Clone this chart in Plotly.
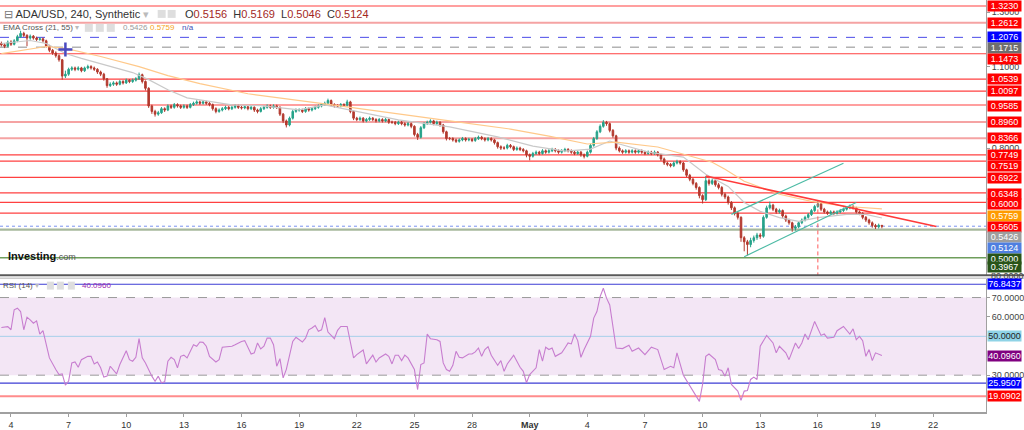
import pandas as pd
import plotly.graph_objects as go

# ---------------- data ----------------
START = "2022-04-03 12:00"   # first 4h bar shown

O = [1.185, 1.180, 1.175, 1.190, 1.182, 1.195, 1.210, 1.222, 1.215, 1.205, 1.212, 1.205,
     1.200, 1.202, 1.195, 1.175, 1.160, 1.150, 1.140, 1.125, 1.065, 1.072, 1.090, 1.095,
     1.090, 1.095, 1.085, 1.095, 1.100, 1.095, 1.090, 1.080, 1.072, 1.055, 1.030, 1.035,
     1.040, 1.035, 1.045, 1.040, 1.050, 1.045, 1.050, 1.055, 1.070, 1.045, 1.020, 0.955,
     0.935, 0.925, 0.930, 0.945, 0.940, 0.955, 0.950, 0.960, 0.955, 0.950, 0.955, 0.950,
     0.960, 0.965, 0.970, 0.965, 0.970, 0.965, 0.960, 0.945, 0.935, 0.940, 0.945, 0.950,
     0.945, 0.950, 0.955, 0.950, 0.948, 0.952, 0.945, 0.950, 0.940, 0.935, 0.945, 0.950,
     0.955, 0.950, 0.955, 0.950, 0.925, 0.900, 0.885, 0.910, 0.935, 0.940, 0.940, 0.935,
     0.945, 0.940, 0.945, 0.950, 0.955, 0.960, 0.965, 0.975, 0.960, 0.955, 0.955, 0.960,
     0.958, 0.970, 0.935, 0.910, 0.905, 0.910, 0.900, 0.905, 0.910, 0.905, 0.900, 0.905,
     0.900, 0.905, 0.895, 0.895, 0.890, 0.895, 0.890, 0.885, 0.890, 0.880, 0.850, 0.840,
     0.875, 0.890, 0.895, 0.900, 0.890, 0.895, 0.885, 0.860, 0.835, 0.835, 0.830, 0.825,
     0.830, 0.835, 0.830, 0.832, 0.828, 0.835, 0.840, 0.835, 0.830, 0.835, 0.830, 0.820,
     0.805, 0.800, 0.800, 0.810, 0.805, 0.795, 0.800, 0.795, 0.790, 0.775, 0.770, 0.780,
     0.785, 0.780, 0.790, 0.785, 0.790, 0.795, 0.790, 0.785, 0.790, 0.795, 0.790, 0.785,
     0.780, 0.785, 0.775, 0.770, 0.785, 0.810, 0.835, 0.860, 0.880, 0.895, 0.890, 0.865,
     0.845, 0.800, 0.790, 0.785, 0.790, 0.785, 0.790, 0.785, 0.790, 0.785, 0.780, 0.785,
     0.780, 0.785, 0.775, 0.760, 0.745, 0.740, 0.735, 0.745, 0.750, 0.745, 0.720, 0.700,
     0.685, 0.670, 0.655, 0.625, 0.610, 0.680, 0.670, 0.680, 0.665, 0.655, 0.630, 0.620,
     0.600, 0.580, 0.560, 0.545, 0.470, 0.455, 0.445, 0.460, 0.470, 0.480, 0.475, 0.545,
     0.580, 0.590, 0.575, 0.565, 0.570, 0.550, 0.535, 0.525, 0.505, 0.510, 0.525, 0.535,
     0.545, 0.555, 0.570, 0.585, 0.595, 0.575, 0.565, 0.560, 0.565, 0.560, 0.565, 0.570,
     0.575, 0.580, 0.585, 0.580, 0.565, 0.560, 0.545, 0.535, 0.525, 0.515, 0.510, 0.5156]

H = [1.192, 1.186, 1.196, 1.197, 1.201, 1.217, 1.232, 1.228, 1.219, 1.218, 1.216, 1.210,
     1.208, 1.207, 1.199, 1.180, 1.165, 1.156, 1.145, 1.128, 1.085, 1.096, 1.101, 1.100,
     1.101, 1.099, 1.100, 1.107, 1.105, 1.100, 1.094, 1.085, 1.077, 1.058, 1.042, 1.046,
     1.045, 1.051, 1.050, 1.056, 1.054, 1.056, 1.061, 1.078, 1.074, 1.049, 1.024, 0.960,
     0.941, 0.937, 0.951, 0.950, 0.961, 0.960, 0.966, 0.965, 0.960, 0.961, 0.960, 0.966,
     0.971, 0.976, 0.975, 0.977, 0.974, 0.969, 0.964, 0.950, 0.946, 0.951, 0.956, 0.955,
     0.956, 0.961, 0.960, 0.955, 0.958, 0.956, 0.956, 0.954, 0.945, 0.951, 0.956, 0.961,
     0.960, 0.961, 0.960, 0.954, 0.929, 0.905, 0.916, 0.941, 0.946, 0.946, 0.945, 0.951,
     0.950, 0.951, 0.956, 0.961, 0.966, 0.971, 0.982, 0.979, 0.965, 0.961, 0.966, 0.965,
     0.978, 0.974, 0.939, 0.915, 0.916, 0.914, 0.911, 0.916, 0.914, 0.910, 0.911, 0.910,
     0.911, 0.909, 0.901, 0.900, 0.901, 0.900, 0.895, 0.896, 0.894, 0.884, 0.856, 0.881,
     0.896, 0.901, 0.906, 0.904, 0.901, 0.899, 0.889, 0.864, 0.841, 0.840, 0.835, 0.836,
     0.841, 0.840, 0.838, 0.837, 0.841, 0.846, 0.845, 0.840, 0.841, 0.840, 0.834, 0.824,
     0.810, 0.807, 0.816, 0.815, 0.809, 0.806, 0.805, 0.800, 0.794, 0.780, 0.786, 0.791,
     0.790, 0.796, 0.795, 0.796, 0.801, 0.800, 0.795, 0.796, 0.801, 0.800, 0.795, 0.790,
     0.791, 0.789, 0.780, 0.791, 0.816, 0.841, 0.866, 0.887, 0.903, 0.900, 0.894, 0.870,
     0.849, 0.806, 0.795, 0.796, 0.795, 0.796, 0.795, 0.796, 0.795, 0.790, 0.791, 0.790,
     0.791, 0.789, 0.779, 0.765, 0.750, 0.745, 0.751, 0.757, 0.755, 0.749, 0.724, 0.705,
     0.690, 0.675, 0.659, 0.630, 0.697, 0.688, 0.688, 0.685, 0.672, 0.660, 0.636, 0.625,
     0.605, 0.585, 0.565, 0.549, 0.476, 0.462, 0.470, 0.478, 0.488, 0.487, 0.552, 0.588,
     0.603, 0.595, 0.580, 0.577, 0.574, 0.555, 0.540, 0.529, 0.517, 0.531, 0.541, 0.551,
     0.561, 0.576, 0.591, 0.606, 0.599, 0.580, 0.570, 0.571, 0.570, 0.571, 0.576, 0.581,
     0.586, 0.592, 0.590, 0.584, 0.570, 0.564, 0.550, 0.540, 0.530, 0.521, 0.522, 0.5169]

L = [1.174, 1.168, 1.171, 1.176, 1.178, 1.190, 1.205, 1.209, 1.175, 1.199, 1.199, 1.194,
     1.195, 1.188, 1.170, 1.153, 1.143, 1.133, 1.118, 1.052, 1.058, 1.066, 1.084, 1.083,
     1.085, 1.079, 1.080, 1.090, 1.089, 1.084, 1.073, 1.065, 1.048, 1.022, 1.025, 1.029,
     1.029, 1.031, 1.034, 1.036, 1.039, 1.040, 1.045, 1.051, 1.038, 1.012, 0.948, 0.926,
     0.916, 0.919, 0.926, 0.933, 0.936, 0.944, 0.945, 0.949, 0.944, 0.945, 0.944, 0.946,
     0.955, 0.960, 0.959, 0.960, 0.959, 0.954, 0.938, 0.928, 0.930, 0.935, 0.940, 0.939,
     0.940, 0.945, 0.944, 0.942, 0.943, 0.939, 0.940, 0.933, 0.928, 0.931, 0.940, 0.945,
     0.944, 0.945, 0.944, 0.918, 0.892, 0.876, 0.880, 0.905, 0.930, 0.934, 0.929, 0.930,
     0.934, 0.935, 0.940, 0.945, 0.950, 0.955, 0.960, 0.954, 0.949, 0.949, 0.950, 0.952,
     0.953, 0.928, 0.903, 0.899, 0.900, 0.894, 0.895, 0.900, 0.899, 0.894, 0.895, 0.894,
     0.895, 0.889, 0.889, 0.884, 0.885, 0.884, 0.879, 0.880, 0.873, 0.843, 0.830, 0.835,
     0.870, 0.885, 0.890, 0.884, 0.885, 0.879, 0.853, 0.828, 0.829, 0.824, 0.819, 0.820,
     0.825, 0.824, 0.825, 0.822, 0.823, 0.830, 0.829, 0.824, 0.825, 0.824, 0.813, 0.798,
     0.793, 0.794, 0.795, 0.799, 0.789, 0.790, 0.789, 0.784, 0.766, 0.755, 0.765, 0.775,
     0.774, 0.776, 0.779, 0.780, 0.785, 0.784, 0.779, 0.780, 0.785, 0.784, 0.779, 0.774,
     0.775, 0.768, 0.762, 0.766, 0.780, 0.805, 0.830, 0.855, 0.875, 0.882, 0.858, 0.838,
     0.792, 0.784, 0.779, 0.780, 0.779, 0.780, 0.779, 0.780, 0.779, 0.774, 0.775, 0.774,
     0.775, 0.769, 0.753, 0.738, 0.733, 0.729, 0.730, 0.740, 0.739, 0.713, 0.693, 0.678,
     0.663, 0.647, 0.615, 0.596, 0.605, 0.662, 0.664, 0.658, 0.648, 0.622, 0.612, 0.592,
     0.572, 0.552, 0.537, 0.455, 0.420, 0.405, 0.435, 0.452, 0.462, 0.466, 0.470, 0.540,
     0.574, 0.568, 0.558, 0.559, 0.543, 0.528, 0.518, 0.492, 0.496, 0.505, 0.520, 0.530,
     0.540, 0.550, 0.565, 0.580, 0.568, 0.559, 0.554, 0.555, 0.554, 0.555, 0.560, 0.565,
     0.570, 0.575, 0.574, 0.558, 0.553, 0.538, 0.528, 0.518, 0.507, 0.502, 0.504, 0.5046]

C = [1.180, 1.175, 1.190, 1.182, 1.195, 1.210, 1.222, 1.215, 1.205, 1.212, 1.205, 1.200,
     1.202, 1.195, 1.175, 1.160, 1.150, 1.140, 1.125, 1.065, 1.072, 1.090, 1.095, 1.090,
     1.095, 1.085, 1.095, 1.100, 1.095, 1.090, 1.080, 1.072, 1.055, 1.030, 1.035, 1.040,
     1.035, 1.045, 1.040, 1.050, 1.045, 1.050, 1.055, 1.070, 1.045, 1.020, 0.955, 0.935,
     0.925, 0.930, 0.945, 0.940, 0.955, 0.950, 0.960, 0.955, 0.950, 0.955, 0.950, 0.960,
     0.965, 0.970, 0.965, 0.970, 0.965, 0.960, 0.945, 0.935, 0.940, 0.945, 0.950, 0.945,
     0.950, 0.955, 0.950, 0.948, 0.952, 0.945, 0.950, 0.940, 0.935, 0.945, 0.950, 0.955,
     0.950, 0.955, 0.950, 0.925, 0.900, 0.885, 0.910, 0.935, 0.940, 0.940, 0.935, 0.945,
     0.940, 0.945, 0.950, 0.955, 0.960, 0.965, 0.975, 0.960, 0.955, 0.955, 0.960, 0.958,
     0.970, 0.935, 0.910, 0.905, 0.910, 0.900, 0.905, 0.910, 0.905, 0.900, 0.905, 0.900,
     0.905, 0.895, 0.895, 0.890, 0.895, 0.890, 0.885, 0.890, 0.880, 0.850, 0.840, 0.875,
     0.890, 0.895, 0.900, 0.890, 0.895, 0.885, 0.860, 0.835, 0.835, 0.830, 0.825, 0.830,
     0.835, 0.830, 0.832, 0.828, 0.835, 0.840, 0.835, 0.830, 0.835, 0.830, 0.820, 0.805,
     0.800, 0.800, 0.810, 0.805, 0.795, 0.800, 0.795, 0.790, 0.775, 0.770, 0.780, 0.785,
     0.780, 0.790, 0.785, 0.790, 0.795, 0.790, 0.785, 0.790, 0.795, 0.790, 0.785, 0.780,
     0.785, 0.775, 0.770, 0.785, 0.810, 0.835, 0.860, 0.880, 0.895, 0.890, 0.865, 0.845,
     0.800, 0.790, 0.785, 0.790, 0.785, 0.790, 0.785, 0.790, 0.785, 0.780, 0.785, 0.780,
     0.785, 0.775, 0.760, 0.745, 0.740, 0.735, 0.745, 0.750, 0.745, 0.720, 0.700, 0.685,
     0.670, 0.655, 0.625, 0.610, 0.680, 0.670, 0.680, 0.665, 0.655, 0.630, 0.620, 0.600,
     0.580, 0.560, 0.545, 0.470, 0.455, 0.445, 0.460, 0.470, 0.480, 0.475, 0.545, 0.580,
     0.590, 0.575, 0.565, 0.570, 0.550, 0.535, 0.525, 0.505, 0.510, 0.525, 0.535, 0.545,
     0.555, 0.570, 0.585, 0.595, 0.575, 0.565, 0.560, 0.565, 0.560, 0.565, 0.570, 0.575,
     0.580, 0.585, 0.580, 0.565, 0.560, 0.545, 0.535, 0.525, 0.515, 0.510, 0.516, 0.5124]

# EMA lines (bar index, value)
EMA21_K = [0, 9, 14, 20, 25, 31, 41, 46, 52, 58, 66, 72, 81, 87, 93, 101, 112, 124, 140, 155,
           166, 176, 184, 190, 193, 202, 213, 220, 227, 232, 237, 243, 249, 255, 264, 270, 275]
EMA21_V = [1.185, 1.196, 1.185, 1.148, 1.130, 1.111, 1.078, 1.052, 1.015, 0.985, 0.970, 0.959,
           0.956, 0.948, 0.941, 0.959, 0.933, 0.904, 0.878, 0.841, 0.807, 0.789, 0.796, 0.826,
           0.815, 0.785, 0.767, 0.704, 0.659, 0.600, 0.567, 0.544, 0.530, 0.544, 0.556, 0.556, 0.5426]
EMA55_K = [0, 14, 20, 31, 43, 52, 62, 77, 101, 119, 140, 159, 171, 183, 192, 205, 216, 222,
           226, 232, 243, 253, 264, 275]
EMA55_V = [1.148, 1.174, 1.167, 1.137, 1.100, 1.067, 1.037, 1.000, 0.963, 0.933, 0.900, 0.870,
           0.844, 0.815, 0.822, 0.804, 0.767, 0.748, 0.722, 0.678, 0.630, 0.604, 0.585, 0.5759]

# RSI(14) (bar index, value)
RSI_K = [0, 2, 3, 4, 5, 6, 7, 8, 9, 10, 11, 12, 13, 14, 15, 17, 18, 19, 20, 21, 22, 23, 24, 25,
         27, 28, 29, 30, 31, 32, 33, 34, 35, 36, 37, 39, 40, 41, 42, 43, 44, 45, 47, 48, 49, 50,
         51, 52, 53, 54, 55, 56, 57, 58, 60, 61, 62, 63, 64, 65, 67, 68, 69, 71, 72, 73, 75, 76,
         78, 79, 80, 81, 82, 83, 84, 85, 86, 87, 88, 89, 91, 92, 94, 95, 96, 97, 98, 99, 100,
         101, 102, 104, 105, 106, 108, 110, 111, 113, 114, 116, 117, 118, 120, 121, 122, 123,
         124, 125, 126, 127, 129, 130, 131, 132, 133, 134, 136, 137, 138, 139, 140, 141, 142,
         143, 144, 146, 147, 148, 149, 150, 151, 152, 153, 155, 156, 157, 158, 159, 160, 162,
         163, 164, 165, 167, 168, 169, 170, 171, 172, 173, 175, 176, 177, 178, 179, 180, 181,
         182, 184, 185, 186, 187, 188, 189, 190, 192, 194, 196, 197, 199, 201, 203, 205, 207,
         209, 210, 211, 213, 215, 216, 218, 219, 220, 221, 223, 224, 225, 226, 227, 228, 230,
         231, 232, 233, 234, 235, 236, 237, 239, 241, 242, 243, 245, 246, 248, 249, 250, 251,
         252, 254, 256, 257, 258, 260, 261, 263, 265, 266, 267, 268, 269, 270, 271, 272, 273, 275]
RSI_V = [54.6, 55.0, 53.4, 63.7, 64.5, 62.8, 53.4, 59.9, 58.5, 56.8, 58.0, 51.2, 52.9, 45.7, 38.9,
         32.9, 30.3, 30.7, 24.9, 27.0, 36.3, 36.8, 34.1, 38.0, 39.7, 39.7, 35.8, 36.8, 33.8, 29.0,
         29.5, 34.6, 32.9, 30.7, 35.5, 42.6, 38.0, 37.2, 39.2, 48.8, 38.9, 36.3, 29.5, 26.9, 29.5,
         26.1, 26.6, 37.2, 39.2, 38.0, 33.8, 39.7, 40.3, 38.9, 45.7, 44.9, 47.1, 46.9, 44.9, 39.7,
         36.8, 38.0, 44.4, 44.9, 44.9, 45.7, 47.4, 47.8, 40.9, 41.5, 46.6, 43.5, 44.9, 49.1, 49.1,
         45.7, 34.6, 38.5, 28.6, 33.0, 47.4, 49.5, 47.1, 49.1, 53.4, 54.3, 55.6, 52.6, 53.4, 59.7,
         52.2, 48.8, 53.1, 55.1, 55.1, 38.9, 40.6, 43.0, 35.8, 40.3, 36.8, 38.9, 40.9, 39.7, 35.8,
         40.3, 40.3, 37.5, 40.3, 38.9, 32.9, 22.6, 35.5, 36.3, 51.2, 48.8, 48.3, 47.4, 36.3, 32.9,
         32.0, 35.1, 42.3, 39.2, 38.9, 40.9, 40.9, 42.0, 44.0, 39.7, 43.2, 44.7, 40.3, 35.1, 37.5,
         32.0, 35.8, 38.0, 40.3, 34.1, 32.0, 26.1, 30.3, 33.8, 43.2, 37.2, 44.4, 43.2, 44.0, 39.7,
         41.5, 44.0, 46.6, 46.1, 51.2, 47.8, 39.2, 43.2, 50.0, 59.4, 62.8, 70.5, 74.8, 69.7, 66.2,
         44.0, 43.7, 45.4, 42.3, 44.0, 40.6, 44.4, 43.2, 32.9, 34.6, 33.8, 41.5, 30.0, 24.4, 21.8,
         16.5, 25.2, 39.7, 40.9, 38.0, 32.9, 32.4, 29.5, 33.8, 25.2, 21.8, 17.0, 21.8, 22.1, 27.8,
         29.0, 27.8, 44.9, 50.5, 46.6, 41.5, 44.9, 41.5, 38.0, 46.6, 43.7, 46.6, 51.2, 48.3, 57.7,
         50.5, 51.2, 49.1, 49.5, 52.9, 55.1, 51.2, 53.9, 48.3, 50.0, 47.8, 39.7, 43.2, 37.5, 41.5,
         40.096]

# drawn objects (bar index, price)
TREND_RED_K = [220, 292]
TREND_RED_V = [0.697, 0.511]
CHAN_UP_K = [228, 263]
CHAN_UP_V = [0.556, 0.744]
CHAN_LO_K = [232, 267]
CHAN_LO_V = [0.400, 0.600]
VLINE_K = [255, 255]
VLINE_V = [0.600, 0.331]
CROSS_K = [20]
CROSS_V = [1.163]

# horizontal levels
RED_LEVELS = [1.3230, 1.1473, 1.0539, 1.0097, 0.9585, 0.7749, 0.7519, 0.6922, 0.6348, 0.6000, 0.5605]
PINK_LEVELS = [1.2612, 0.8960, 0.8366]
BLUE_DASH_LEVEL = 1.2076
GRAY_DASH_LEVEL = 1.1715
LAST_PRICE = 0.5124
GREEN_LEVELS = [0.5000, 0.3967]

PRICE_LABELS = ["1.3230", "1.2612", "1.2076", "1.1715", "1.1473", "1.0539", "1.0097", "0.9585",
                "0.8960", "0.8366", "0.7749", "0.7519", "0.6922", "0.6348", "0.6000", "0.5759",
                "0.5605", "0.5426", "0.5124", "0.5000", "0.3967"]
RSI_LABELS = ["76.8437", "50.0000", "40.0960", "25.9507", "19.0902"]
RSI_TOP_TICK = "80.0000"
RSI_LEVELS_BLUE = [76.8437, 25.9507]
RSI_LEVEL_RED = 19.0902

TICK_DATES = ["2022-04-04", "2022-04-07", "2022-04-10", "2022-04-13", "2022-04-16", "2022-04-19",
              "2022-04-22", "2022-04-25", "2022-04-28", "2022-05-01", "2022-05-04", "2022-05-07",
              "2022-05-10", "2022-05-13", "2022-05-16", "2022-05-19", "2022-05-22"]
TICK_TEXT = ["4", "7", "10", "13", "16", "19", "22", "25", "28", "<b>May</b>", "4", "7", "10",
             "13", "16", "19", "22"]

# ---------------- styling / layout helpers ----------------
FONT = "Arial, Liberation Sans, sans-serif"
UP, DN = "#26a38a", "#b3392e"
RED, PINK = "#ff4040", "#f5a3a3"
PW, PH = 988, 414  # plot area in px


def xp(px):
    return px / PW


def yp(py):
    return 1 - py / PH


t0 = pd.Timestamp(START)


def kt(ks):
    return [t0 + pd.Timedelta(hours=4 * k) for k in ks]


times = pd.date_range(START, periods=len(C), freq="4h")

fig = go.Figure()

fig.add_trace(go.Candlestick(
    x=times, open=O, high=H, low=L, close=C, xaxis="x", yaxis="y",
    increasing=dict(line=dict(color=UP, width=1), fillcolor=UP),
    decreasing=dict(line=dict(color=DN, width=1), fillcolor=DN),
    hoverinfo="skip", showlegend=False))

fig.add_trace(go.Scatter(x=kt(EMA21_K), y=EMA21_V, mode="lines", line=dict(color="#c9c9c9", width=1.2),
                         xaxis="x", yaxis="y", hoverinfo="skip", showlegend=False))
fig.add_trace(go.Scatter(x=kt(EMA55_K), y=EMA55_V, mode="lines", line=dict(color="#ffc98a", width=1.2),
                         xaxis="x", yaxis="y", hoverinfo="skip", showlegend=False))

fig.add_trace(go.Scatter(x=kt(TREND_RED_K), y=TREND_RED_V, mode="lines", line=dict(color="#ff3a3a", width=1.5),
                         xaxis="x", yaxis="y", hoverinfo="skip", showlegend=False))
for ks, vs in [(CHAN_UP_K, CHAN_UP_V), (CHAN_LO_K, CHAN_LO_V)]:
    fig.add_trace(go.Scatter(x=kt(ks), y=vs, mode="lines", line=dict(color="#4dbba5", width=1.2),
                             xaxis="x", yaxis="y", hoverinfo="skip", showlegend=False))
fig.add_trace(go.Scatter(x=kt(VLINE_K), y=VLINE_V, mode="lines",
                         line=dict(color="#ff5a5a", width=1, dash="4px,3px"),
                         xaxis="x", yaxis="y", hoverinfo="skip", showlegend=False))
fig.add_trace(go.Scatter(x=kt(CROSS_K), y=CROSS_V, mode="markers",
                         marker=dict(symbol="cross-thin", size=10, line=dict(color="#4a4ac0", width=2.5)),
                         xaxis="x", yaxis="y", hoverinfo="skip", showlegend=False))

fig.add_trace(go.Scatter(x=kt(RSI_K), y=RSI_V, mode="lines", line=dict(color="#c77dcf", width=1.1),
                         xaxis="x", yaxis="y2", hoverinfo="skip", showlegend=False))

shapes = []


def hline(v, color, width=1, dash="solid", yref="y"):
    shapes.append(dict(type="line", xref="paper", x0=0, x1=1, yref=yref, y0=v, y1=v,
                       line=dict(color=color, width=width, dash=dash), layer="below"))


for v in RED_LEVELS:
    hline(v, RED, 1.2)
for v in PINK_LEVELS:
    hline(v, PINK, 2)
hline(BLUE_DASH_LEVEL, "#4a4ae8", 1, "dash")
hline(GRAY_DASH_LEVEL, "#8c8c8c", 1, "dash")
hline(LAST_PRICE, "#7b93f0", 1, "dot")
hline(GREEN_LEVELS[0], "#a7b89d", 2.2)
hline(GREEN_LEVELS[1], "#6f9e5c", 1.5)

# RSI panel
shapes.append(dict(type="rect", xref="paper", x0=0, x1=1, yref="y2", y0=30, y1=70,
                   fillcolor="#f3e6f5", line=dict(width=0), layer="below"))
hline(70, "#9a9a9a", 1, "dash", "y2")
hline(30, "#9a9a9a", 1, "dash", "y2")
hline(50, "#a7d0ea", 1, "solid", "y2")
for v in RSI_LEVELS_BLUE:
    hline(v, "#3c3cd4", 1.2, "solid", "y2")
hline(RSI_LEVEL_RED, "#ff8c8c", 2, "solid", "y2")

# small header icons
for (x0, x1, y0, y1) in [(158, 166, 10, 18), (168, 176, 10, 18),
                         (85, 93, 24, 32), (96, 104, 24, 32), (107, 115, 24, 32),
                         (47, 54, 283, 291), (57, 64, 283, 291), (68, 75, 283, 291)]:
    shapes.append(dict(type="rect", xref="paper", yref="paper", x0=xp(x0), x1=xp(x1),
                       y0=yp(y1), y1=yp(y0), fillcolor="#dedede", line=dict(width=0)))

annotations = []


def txt(px, py, text, size, color="#333", **kw):
    annotations.append(dict(xref="paper", yref="paper", x=xp(px), y=yp(py), text=text,
                            showarrow=False, xanchor="left", yanchor="middle",
                            font=dict(family=FONT, size=size, color=color), **kw))


VC = "#a3281e"
txt(2, 14, "<span style='color:#777'>⊟</span> ADA/USD, 240, Synthetic <span style='color:#bbb'>▾</span>", 11)
txt(183, 14, ("O<span style='color:%s'>0.5156</span>  H<span style='color:%s'>0.5169</span>  "
              "L<span style='color:%s'>0.5046</span>  C<span style='color:%s'>0.5124</span>") % (VC, VC, VC, VC), 11)
txt(1, 28, "EMA Cross (21, 55) <span style='color:#bbb'>▾</span>", 8, "#555")
txt(121, 28, "0.5426", 8, "#9a9a9a")
txt(148, 28, "0.5759", 8, "#f5a524")
txt(180, 28, "n/a", 8, "#3f51b5")
txt(1, 287, "RSI (14) <span style='color:#bbb'>▾</span>", 8, "#555")
txt(80, 287, "40.0960", 8, "#9c27b0")
txt(6, 257, "<b>Investing</b><span style='font-size:9px;color:#555'>.com</span>", 11, "#111")
# RSI top tick text, partly hidden by the panel separator (as in the original)
txt(991, 277.5, RSI_TOP_TICK, 9, "#444")

# panel separator (drawn over the top RSI tick text)
shapes.append(dict(type="line", xref="paper", x0=0, x1=1.04, yref="paper", y0=yp(276.5), y1=yp(276.5),
                   line=dict(color="#5a5a5a", width=2)))
shapes.append(dict(type="line", xref="paper", x0=0, x1=1.04, yref="paper", y0=yp(279.5), y1=yp(279.5),
                   line=dict(color="#b0b0b0", width=1)))

# right-hand price labels: (background, text colour, vertical shift)
PRICE_LABEL_STYLE = [("#ff0000", "white", 0), ("#ff0000", "white", 0), ("#0000ff", "white", 0),
                     ("#6e6e6e", "white", -1), ("#ff0000", "white", -5), ("#ff0000", "white", 0),
                     ("#ff0000", "white", 0), ("#ff0000", "white", -1), ("#ff0000", "white", 0),
                     ("#ff0000", "white", 0), ("#ff0000", "white", 0), ("#ff0000", "white", -5),
                     ("#ff0000", "white", -1), ("#ff0000", "white", -1), ("#ff0000", "white", -2),
                     ("#ff9a00", "white", -7), ("#ff0000", "white", -14), ("#9e9e9e", "white", -19),
                     ("#4f7fe0", "white", -22), ("#285418", "white", -29), ("#285418", "white", -9)]
for lab, (bg, fc, sh) in zip(PRICE_LABELS, PRICE_LABEL_STYLE):
    annotations.append(dict(xref="paper", yref="y", x=1, y=float(lab), xshift=1, yshift=sh,
                            text=lab, showarrow=False, xanchor="left", yanchor="middle",
                            bgcolor=bg, borderpad=0, width=33, height=10, align="center",
                            font=dict(family=FONT, size=9, color=fc)))
RSI_LABEL_STYLE = [("#0000ff", "white"), ("#8fd3e6", "#222"), ("#800080", "white"),
                   ("#0000ff", "white"), ("#ff0000", "white")]
for lab, (bg, fc) in zip(RSI_LABELS, RSI_LABEL_STYLE):
    annotations.append(dict(xref="paper", yref="y2", x=1, y=float(lab), xshift=1,
                            text=lab, showarrow=False, xanchor="left", yanchor="middle",
                            bgcolor=bg, borderpad=0, width=33, height=10, align="center",
                            font=dict(family=FONT, size=9, color=fc)))

fig.update_layout(
    width=1024, height=430,
    margin=dict(l=0, r=36, t=0, b=16),
    paper_bgcolor="white", plot_bgcolor="white",
    showlegend=False, hovermode=False,
    font=dict(family=FONT, size=9, color="#333"),
    shapes=shapes, annotations=annotations,
    xaxis=dict(domain=[0, 1], anchor="y2", type="date",
               range=["2022-04-03 10:17", "2022-05-24 18:04"],
               tickvals=TICK_DATES, ticktext=TICK_TEXT, tickfont=dict(size=9, color="#333"),
               ticks="outside", ticklen=3, tickcolor="#9e9e9e",
               showline=True, linecolor="#a0a0a0", linewidth=2, showgrid=False, zeroline=False,
               rangeslider=dict(visible=False)),
    yaxis=dict(domain=[0.331, 1], anchor="x", side="right", range=[0.3305, 1.3451],
               tickvals=[0.8, 1.1, 1.3], tickformat=".4f", ticks="outside", ticklen=3,
               tickcolor="#9e9e9e", tickfont=dict(size=9, color="#444"),
               showline=True, linecolor="#a0a0a0", linewidth=1, showgrid=False, zeroline=False),
    yaxis2=dict(domain=[0, 0.3237], anchor="x", side="right", range=[11.03, 79.74],
                tickvals=[30, 60, 70], tickformat=".4f", ticks="outside", ticklen=3,
                tickcolor="#9e9e9e", tickfont=dict(size=9, color="#444"),
                showline=True, linecolor="#a0a0a0", linewidth=1, showgrid=False, zeroline=False),
)

fig.write_html("out.html", config={"displayModeBar": False},
               post_script="document.body.style.margin='0';document.body.style.overflow='hidden';")
